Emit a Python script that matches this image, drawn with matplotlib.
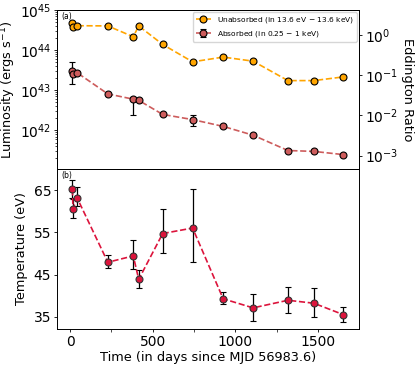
import numpy as np
import matplotlib
matplotlib.use("Agg")
import matplotlib.pyplot as plt
from matplotlib.ticker import MultipleLocator, NullLocator

# days since MJD 56983.6
days = [14, 17, 44, 228, 382, 415, 560, 741, 926, 1107, 1318, 1475, 1653]

lum_unabs = [4.6e44, 3.7e44, 4.05e44, 4.0e44, 2.15e44, 4.0e44, 1.38e44,
             5.1e43, 6.7e43, 5.3e43, 1.74e43, 1.74e43, 2.15e43]

lum_abs = [3.0e43, 2.5e43, 2.7e43, 8.1e42, 6.0e42, 5.6e42, 2.5e42,
           1.86e42, 1.26e42, 7.6e41, 3.16e41, 3.0e41, 2.5e41]
lum_abs_lo = [1.6e43, 0, 0, 0, 3.6e42, 0, 0, 0.6e42, 0, 0, 0, 0, 0]
lum_abs_hi = [2.1e43, 0, 0, 0, 0.8e42, 0, 0, 0.5e42, 0, 0, 0, 0, 0]

temp = [65.2, 60.6, 63.0, 47.9, 49.4, 43.85, 54.7, 56.0, 39.25, 37.1, 38.9, 38.2, 35.5]
temp_lo = [2.2, 2.3, 1.8, 1.45, 3.0, 2.15, 4.55, 8.05, 1.35, 3.0, 2.9, 3.2, 1.8]
temp_hi = [2.2, 2.3, 2.6, 1.6, 3.8, 2.2, 5.7, 9.2, 1.6, 3.3, 3.1, 3.7, 1.9]

L_EDD = 10**44.375

plt.rcParams['font.family'] = 'DejaVu Sans'
plt.rcParams['xtick.labelsize'] = 10
plt.rcParams['ytick.labelsize'] = 10
for ax_name in ['xtick', 'ytick']:
    plt.rcParams[ax_name + '.major.size'] = 2.5
    plt.rcParams[ax_name + '.minor.size'] = 1.5
    plt.rcParams[ax_name + '.major.width'] = 0.6
    plt.rcParams[ax_name + '.minor.width'] = 0.5
    plt.rcParams[ax_name + '.major.pad'] = 2.0
plt.rcParams['axes.linewidth'] = 0.7

fig = plt.figure(figsize=(4.16, 3.68), dpi=100)
ax1 = fig.add_axes([0.138, 0.541, 0.725, 0.432])
ax2 = fig.add_axes([0.138, 0.106, 0.725, 0.435], sharex=ax1)

ax1.plot(days, lum_unabs, '--o', color='orange', mec='k', mew=0.8, ms=5,
         lw=1.2, label='Unabsorbed (in 13.6 eV $-$ 13.6 keV)', zorder=3)
ax1.errorbar(days, lum_abs, yerr=[lum_abs_lo, lum_abs_hi], fmt='--o',
             color='indianred', ecolor='k', elinewidth=0.9, capsize=2,
             mec='k', mew=0.8, ms=5, lw=1.2,
             label='Absorbed (in 0.25 $-$ 1 keV)', zorder=3)
ax1.set_yscale('log')
ax1.set_ylim(1.1e41, 1e45)
ax1.set_ylabel(r'Luminosity (ergs s$^{-1}$)', fontsize=9.3)
ax1.yaxis.set_label_coords(-0.13, 0.5)
ax1.tick_params(labelbottom=False)
ax1.text(0.012, 0.985, '(a)', transform=ax1.transAxes, fontsize=5.5,
         va='top', ha='left')
ax1.legend(loc='upper right', fontsize=5.4, borderaxespad=0.3)

ax_r = ax1.twinx()
ax_r.set_yscale('log')
ax_r.set_ylim(1.1e41 / L_EDD, 1e45 / L_EDD)
ax_r.yaxis.set_minor_locator(NullLocator())
ax_r.set_ylabel('Eddington Ratio', rotation=270, labelpad=11, fontsize=9.3)

ax2.errorbar(days, temp, yerr=[temp_lo, temp_hi], fmt='--o', color='crimson',
             ecolor='k', elinewidth=0.9, capsize=2, mec='#333333', mew=0.8,
             ms=5, lw=1.2)
ax2.set_ylim(32.1, 70)
ax2.set_yticks([35, 45, 55, 65])
ax2.set_ylabel('Temperature (eV)', fontsize=9.3)
ax2.yaxis.set_label_coords(-0.098, 0.5)
ax2.set_xlabel('Time (in days since MJD 56983.6)', fontsize=9.3)
ax2.xaxis.set_label_coords(0.5, -0.135)
ax2.set_xlim(-77, 1748)
ax2.xaxis.set_major_locator(MultipleLocator(500))
ax2.xaxis.set_minor_locator(MultipleLocator(250))
ax2.tick_params(axis='x', which='minor', length=2.5)
ax2.text(0.012, 0.985, '(b)', transform=ax2.transAxes, fontsize=5.5,
         va='top', ha='left')

fig.savefig('out.png', dpi=100)
